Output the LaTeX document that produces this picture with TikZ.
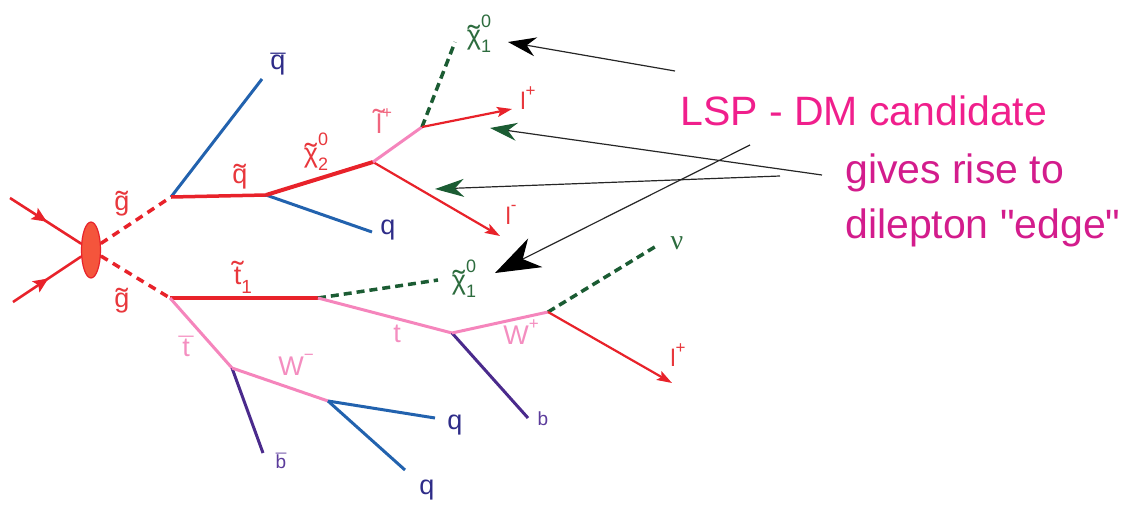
\documentclass[tikz,border=0pt]{standalone}
\usepackage{fontspec}
\setmainfont{Liberation Sans}
\newfontfamily\serifgr{Liberation Serif}
\usetikzlibrary{arrows.meta,decorations.markings,shapes.geometric}
\definecolor{pred}{HTML}{E8222A}
\definecolor{ppink}{HTML}{F585BC}
\definecolor{pblue}{HTML}{2262AE}
\definecolor{ppurple}{HTML}{4A2A8C}
\definecolor{pgreen}{HTML}{1B5C33}
\definecolor{lred}{HTML}{E8373C}
\definecolor{lpink}{HTML}{F48EC0}
\definecolor{lnavy}{HTML}{2E2C88}
\definecolor{lpurple}{HTML}{5B3B9B}
\definecolor{lgreen}{HTML}{2D6C3E}
\definecolor{lsl}{HTML}{F0657E}
\definecolor{mag}{HTML}{F01F8C}
\definecolor{magb}{HTML}{D31C8C}
\definecolor{blobfill}{HTML}{F4553C}
\newcommand\tl[2][0em]{\ooalign{#2\cr\hidewidth\raisebox{\dimexpr#1-0.1em\relax}{\scalebox{1.35}[1.15]{\char"02DC}}\hidewidth\cr}}
\newcommand\br[2][0em]{\ooalign{#2\cr\hidewidth\raisebox{#1}{\char"00AF}\hidewidth\cr}}
\newcommand\spsb[2]{\rlap{\raisebox{0.62em}{\fontsize{18}{18}\selectfont#1}}\raisebox{-0.32em}{\fontsize{18}{18}\selectfont#2}}
\newcommand\sbs[1]{\raisebox{-0.32em}{\fontsize{19}{19}\selectfont#1}}
\newcommand\sps[1]{\raisebox{0.55em}{\fontsize{17}{17}\selectfont#1}}
\newcommand\dq{\XeTeXglyph\XeTeXcharglyph"22\relax}
\tikzset{
  lab/.style={inner sep=0pt, font=\fontsize{27}{30}\selectfont},
  labl/.style={inner sep=0pt, font=\fontsize{24}{26}\selectfont},
  labs/.style={inner sep=0pt, font=\fontsize{19}{21}\selectfont},
  redline/.style={draw=pred, line width=3pt},
  pinkline/.style={draw=ppink, line width=3pt},
  blueline/.style={draw=pblue, line width=3pt},
  purpline/.style={draw=ppurple, line width=3pt},
  greendash/.style={draw=pgreen, line width=3.5pt, dash pattern=on 8pt off 5pt},
  reddash/.style={draw=pred, line width=3.5pt, dash pattern=on 8pt off 6pt},
  lepton/.style={draw=pred, line width=2.2pt, -{Stealth[length=15pt,width=10pt,inset=3pt]}},
  incoming/.style={draw=pred, line width=2.6pt, postaction={decorate},
    decoration={markings, mark=at position 0.52 with {\arrow[pred]{Stealth[length=15pt,width=13pt,inset=3pt]}}}},
  ann/.style={draw=black!85, line width=1.2pt},
  blobst/.style={ellipse, draw=pred, line width=1.2pt, fill=blobfill, minimum width=19pt, minimum height=56pt, inner sep=0pt},
  bigtext/.style={inner sep=0pt, anchor=base west, font=\fontsize{41}{45}\selectfont}
}
\begin{document}
\begin{tikzpicture}[x=1pt,y=-1pt]
\useasboundingbox (0,0) rectangle (1130,504);
% vertices and ends
\coordinate (in1) at (10,198);
\coordinate (in2) at (13,302);
\coordinate (v1) at (171,197);
\coordinate (v2) at (266,195);
\coordinate (v3) at (373,162);
\coordinate (v4) at (422,127);
\coordinate (eqbar) at (262,79);
\coordinate (eq1) at (372,232);
\coordinate (echia) at (455,42);
\coordinate (elp1) at (512,109);
\coordinate (elm) at (500,236);
\coordinate (w1) at (170,298);
\coordinate (w2) at (318,298);
\coordinate (w3) at (452,333);
\coordinate (w4) at (548,312);
\coordinate (echib) at (438,280);
\coordinate (enu) at (658,245);
\coordinate (elp2) at (672,383);
\coordinate (eb) at (528,418);
\coordinate (w5) at (232,368);
\coordinate (w6) at (328,401);
\coordinate (ebbar) at (263,453);
\coordinate (eq2) at (435,418);
\coordinate (eq3) at (405,470);
% annotation arrow coordinates
\coordinate (a1s) at (675,71);
\coordinate (a1e) at (508,42);
\coordinate (a2s) at (822,175);
\coordinate (a2e) at (490,128);
\coordinate (a3s) at (780,176);
\coordinate (a3e) at (435,189);
\coordinate (a4s) at (750,145);
\coordinate (a4e) at (495,273);

\node[blobst] (blob) at (91,250) {};

% incoming
\draw[incoming] (in1) -- (blob);
\draw[incoming] (in2) -- (blob);
% gluinos
\draw[reddash] (blob) -- (v1);
\draw[reddash] (blob) -- (w1);
% upper chain
\draw[blueline] (v1) -- (eqbar);
\draw[redline, line width=3.5pt] (v1) -- (v2);
\draw[blueline] (v2) -- (eq1);
\draw[redline, line width=4pt] (v2) -- (v3);
\draw[lepton] (v3) -- (elm);
\draw[pinkline] (v3) -- (v4);
\draw[greendash] (v4) -- (echia);
\draw[lepton] (v4) -- (elp1);
% lower chain
\draw[redline, line width=3.5pt] (w1) -- (w2);
\draw[greendash] (w2) -- (echib);
\draw[pinkline] (w2) -- (w3);
\draw[purpline] (w3) -- (eb);
\draw[pinkline] (w3) -- (w4);
\draw[greendash] (w4) -- (enu);
\draw[lepton] (w4) -- (elp2);
\draw[pinkline] (w1) -- (w5);
\draw[purpline] (w5) -- (ebbar);
\draw[pinkline] (w5) -- (w6);
\draw[blueline] (w6) -- (eq2);
\draw[blueline] (w6) -- (eq3);

% labels
\node[lab, text=lred] (lgu) at (122,205) {\tl{g}};
\node[lab, text=lred] (lgl) at (122,302) {\tl{g}};
\node[lab, text=lred] (lqt) at (240,178) {\tl{q}};
\node[lab, text=lnavy] (lqbar) at (278,64) {\br[-0.13em]{q}};
\node[lab, text=lred] (lchi2) at (316,152) {\tl{χ}\spsb{0}{2}};
\node[lab, text=lsl] (lsl) at (384,121) {\tl[0.16em]{l}\sps{+}};
\node[lab, text=lgreen] (lchia) at (479,34) {\tl{χ}\spsb{0}{1}};
\node[labl, text=lred] (llp1) at (528,98) {l\sps{+}};
\node[labl, text=lred] (llm) at (511,215) {l\sps{-}};
\node[lab, text=lnavy] (lq1) at (388,230) {q};
\node[lab, text=lred] (lt1) at (243,280) {\tl[0.12em]{t}\sbs{1}};
\node[lab, text=lgreen] (lchib) at (464,279) {\tl{χ}\spsb{0}{1}};
\node[lab, text=lpink] (lt) at (397,334) {t};
\node[lab, text=lpink] (lwp) at (521,332) {W\sps{+}};
\node[lab, text=lgreen, font=\serifgr\fontsize{28}{30}\selectfont] (lnu) at (677,243) {ν};
\node[labl, text=lred] (llp2) at (678,355) {l\sps{+}};
\node[labs, text=lpurple] (lb) at (543,419) {b};
\node[lab, text=lpink] (ltbar) at (186,348) {\br{t}};
\node[lab, text=lpink] (lwm) at (296,365) {W\sps{−}};
\node[labs, text=lpurple] (lbbar) at (281,462) {\br[0.05em]{b}};
\node[lab, text=lnavy] (lq2) at (455,425) {q};
\node[lab, text=lnavy] (lq3) at (427,490) {q};

% annotation text
\node[bigtext, text=mag] (lsp) at (680,125) {LSP - DM candidate};
\node[bigtext, text=magb] (gives) at (845,183) {gives rise to};
\node[bigtext, text=magb] (dilep) at (845,238) {dilepton \dq edge\dq};

% annotation arrows
\draw[ann, -{Stealth[length=28pt,width=19pt,inset=9pt,color=black]}] (a1s) -- (a1e);
\draw[ann, -{Stealth[length=27pt,width=18pt,inset=9pt,color=pgreen]}] (a2s) -- (a2e);
\draw[ann, -{Stealth[length=29pt,width=18pt,inset=9pt,color=pgreen]}] (a3s) -- (a3e);
\draw[ann, -{Stealth[length=45pt,width=32pt,inset=14pt,color=black]}] (a4s) -- (a4e);
\end{tikzpicture}
\end{document}
